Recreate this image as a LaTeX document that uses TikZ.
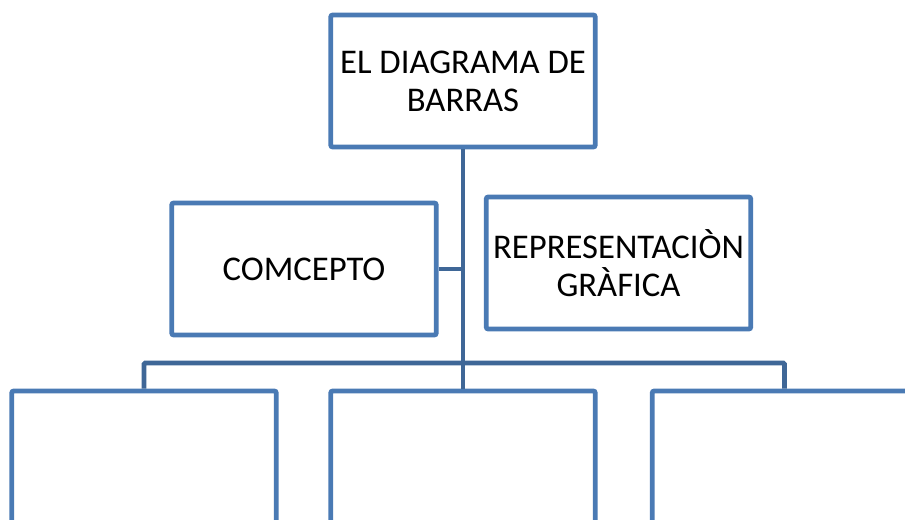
\documentclass[tikz,border=0pt]{standalone}
\usepackage{fontspec}
\setmainfont{Carlito}
\definecolor{boxblue}{HTML}{4A7AB4}
\definecolor{linkblue}{HTML}{3F6797}
\begin{document}
\begin{tikzpicture}[x=0.75pt,y=-0.75pt,
  orgbox/.style={draw=boxblue,fill=white,line width=3.6pt,rounded corners=1.5pt,
    minimum width=264.5*0.75pt,minimum height=132*0.75pt,inner sep=0pt,
    align=center,font=\fontsize{26}{28.5}\selectfont},
  link/.style={draw=linkblue,line width=3.6pt,rounded corners=1pt}]
\useasboundingbox (0,0) rectangle (905,520);
\clip (0,0) rectangle (905,520);
% boxes
\node[orgbox] (top) at (463,81) {EL DIAGRAMA DE\\BARRAS};
\node[orgbox] (conc) at (304,269) {COMCEPTO};
\node[orgbox] (repr) at (618.5,263) {REPRESENTACIÒN\\GRÀFICA};
\node[orgbox,minimum height=200*0.75pt] (bleft) at (144,491) {};
\node[orgbox,minimum height=200*0.75pt] (bmid) at (463,491) {};
\node[orgbox,minimum height=200*0.75pt] (bright) at (784.5,491) {};
% connectors
\coordinate (bus) at (463,363);
\draw[link] (top.south) -- (bmid.north);
\draw[link] (conc.east) -- (conc.east -| top.south);
\draw[link] (bleft.north) |- (bus) -| (bright.north);
\end{tikzpicture}
\end{document}
